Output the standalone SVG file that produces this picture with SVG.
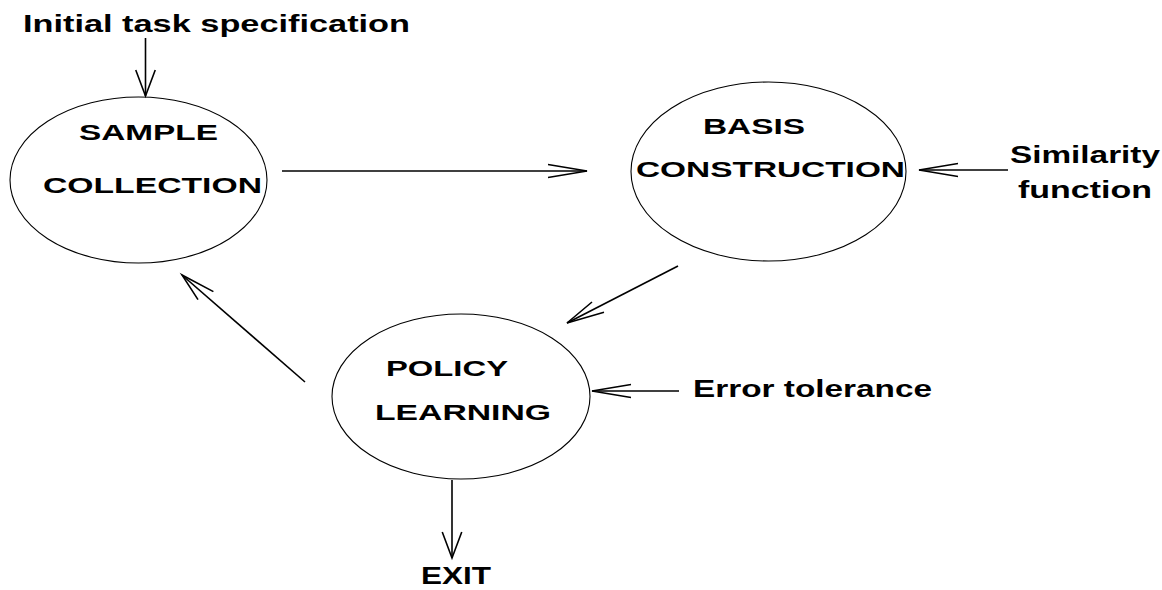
<svg xmlns="http://www.w3.org/2000/svg" width="1162" height="590" viewBox="0 0 1162 590">
<style>
.node ellipse{fill:none;stroke:#000;stroke-width:1.1}
text{font-family:"Liberation Sans",Arial,sans-serif;font-weight:bold;fill:#000}
.n{font-size:22.5px}
.l{font-size:23.5px}
.c line,.c polyline{fill:none;stroke:#000;stroke-width:1.6}
</style>
<rect width="1162" height="590" fill="#fff"/>
<g id="label-initial"><text class="l" x="23" y="32" textLength="387" lengthAdjust="spacingAndGlyphs">Initial task specification</text></g>
<g id="node-sample" class="node">
<ellipse cx="138.5" cy="180" rx="128.5" ry="83"/>
<text class="n" x="79" y="140" textLength="139" lengthAdjust="spacingAndGlyphs">SAMPLE</text>
<text class="n" x="43" y="193" textLength="219" lengthAdjust="spacingAndGlyphs">COLLECTION</text>
</g>
<g id="node-basis" class="node">
<ellipse cx="768.5" cy="171.5" rx="137.5" ry="89.5"/>
<text class="n" x="703" y="134" textLength="102" lengthAdjust="spacingAndGlyphs">BASIS</text>
<text class="n" x="636" y="177" textLength="269" lengthAdjust="spacingAndGlyphs">CONSTRUCTION</text>
</g>
<g id="node-policy" class="node">
<ellipse cx="461" cy="396.5" rx="129" ry="82.5"/>
<text class="n" x="386" y="376" textLength="122" lengthAdjust="spacingAndGlyphs">POLICY</text>
<text class="n" x="375" y="420" textLength="176" lengthAdjust="spacingAndGlyphs">LEARNING</text>
</g>
<g id="label-similarity">
<text class="l" x="1010" y="163" textLength="150" lengthAdjust="spacingAndGlyphs">Similarity</text>
<text class="l" x="1018" y="198" textLength="134" lengthAdjust="spacingAndGlyphs">function</text>
</g>
<g id="label-error"><text class="l" x="693" y="397" textLength="239" lengthAdjust="spacingAndGlyphs">Error tolerance</text></g>
<g id="label-exit"><text class="l" x="421" y="584" textLength="70" lengthAdjust="spacingAndGlyphs">EXIT</text></g>
<g id="connectors" class="c">
<line x1="145.5" y1="38" x2="145.5" y2="96"/>
<polyline points="135.75,70 145.5,96 155.25,70"/>
<line x1="282" y1="171" x2="587" y2="171"/>
<polyline points="548,164.5 587,171 548,177.5"/>
<line x1="1008" y1="170" x2="919" y2="170"/>
<polyline points="958,163.5 919,170 958,176.5"/>
<line x1="678" y1="266" x2="567" y2="323"/>
<polyline points="592,302 567,323 604,312.3"/>
<line x1="305" y1="382" x2="182" y2="275"/>
<polyline points="213.4,291.6 182,275 198,299.6"/>
<line x1="679" y1="391" x2="592" y2="391"/>
<polyline points="631,384.5 592,391 631,397.5"/>
<line x1="452" y1="480" x2="452" y2="558"/>
<polyline points="442.25,532 452,558 461.75,532"/>
</g>
</svg>
